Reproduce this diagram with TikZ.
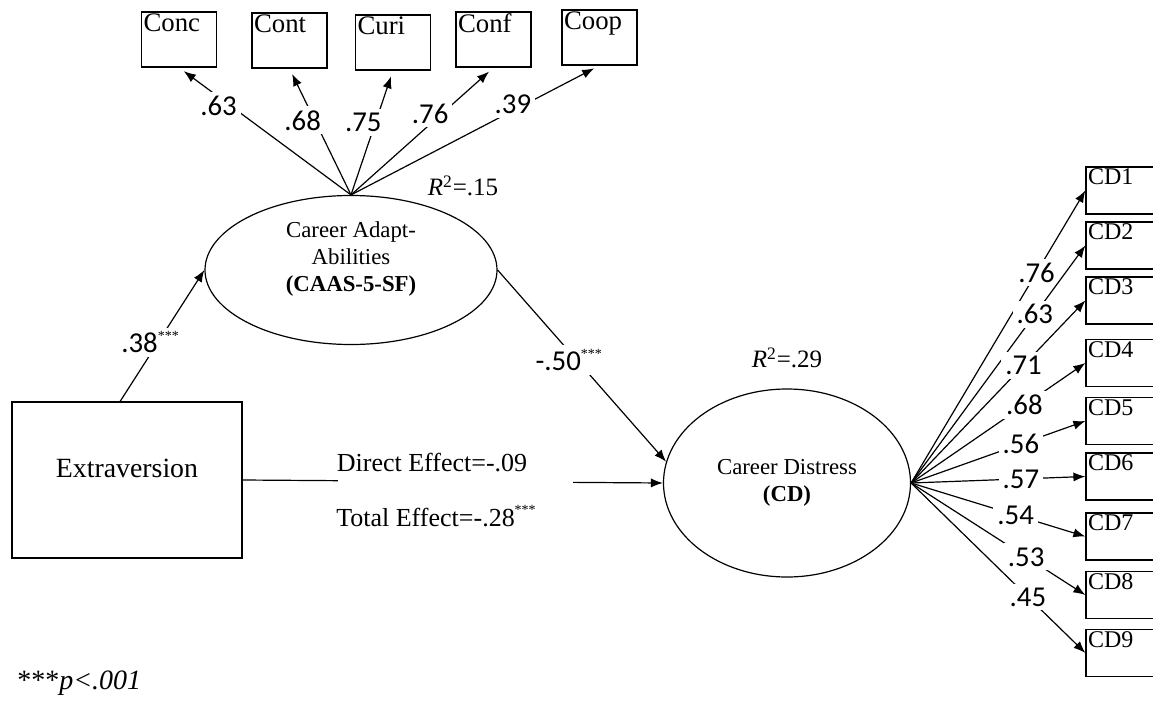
\documentclass[tikz,border=0pt]{standalone}
\usepackage{fontspec}
\setmainfont{Liberation Serif}
\newfontfamily\numfont{Carlito}
\usetikzlibrary{shapes.geometric,arrows.meta}
\newcommand{\sig}{\raisebox{6pt}{\rmfamily\fontsize{7}{7}\selectfont ***}}

\begin{document}
\begin{tikzpicture}[x=0.5pt, y=-0.5pt, line width=0.6pt,
    >={Latex[length=6pt,width=4.6pt]},
    item/.style={draw, minimum width=37.5pt, minimum height=27.5pt, inner sep=0pt},
    latent/.style={draw, ellipse, inner sep=0pt},
    coef/.style={fill=white, inner sep=2pt, font=\numfont\fontsize{14.4}{16}\selectfont},
    itemtext/.style={anchor=north west, inner sep=1pt, font=\fontsize{13.4}{15}\selectfont}]
    \useasboundingbox (0,0) rectangle (1153,702);
    \clip (0,0) rectangle (1153,702);
    % latent variables
    \node[latent, minimum width=146pt, minimum height=74.5pt,
        label={[align=center, yshift=5.5pt, font=\fontsize{11.4}{13.5}\selectfont]center:Career Adapt-\\Abilities\\\textbf{(CAAS-5-SF)}}] (adapt) at (351,270) {};
    \node[latent, minimum width=123.5pt, minimum height=94pt, align=center,
        font=\fontsize{11.4}{13.5}\selectfont] (distress) at (787,483) {Career Distress\\\textbf{(CD)}};
    % predictor
    \node[draw, minimum width=115pt, minimum height=78pt,
        label={[yshift=6pt, font=\fontsize{13.9}{16}\selectfont]center:Extraversion}] (extra) at (127,480) {};
    % R^2 values
    \node[font=\fontsize{12.5}{14}\selectfont] (rsqa) at (463,186) {\textit{R}\textsuperscript{2}=.15};
    \node[font=\fontsize{12.5}{14}\selectfont] (rsqd) at (787,358) {\textit{R}\textsuperscript{2}=.29};
    % structural paths
    \draw[->] (extra.95) -- node[coef, pos=.45, xshift=-4pt] {.38\sig} (adapt.west);
    \draw[->] (adapt.east) -- node[coef, pos=.47, xshift=-4pt] {-.50\sig} (distress.170);
    \draw[->] (extra.east) -- node[pos=.506, fill=white, minimum width=117.5pt, minimum height=4pt, inner sep=0pt] (gap) {} (distress.west);
    \node[font=\fontsize{13}{15}\selectfont] (direct) at (432,463) {Direct Effect=-.09};
    \node[font=\fontsize{13}{15}\selectfont] (total) at (436,516) {Total Effect=-.28\sig};
    % CAAS indicators
    \foreach \n/\x/\y/\w/\p in {Conc/179/39.5/.63/.70, Cont/289.5/40.5/.68/.59, Curi/393/42.5/.75/.58, Conf/493.5/39.5/.76/.64, Coop/599.5/37.5/.39/.70}{
        \node[item, label={[itemtext]north west:\n}] (\n) at (\x,\y) {};
        \draw[->, shorten >=3pt] (adapt.north) -- node[coef, pos=\p, xshift=-6pt] {\w} (\n.south);
    }
    % CD indicators
    \foreach \i/\y/\w/\p in {1/190.5/.76/.72, 2/245.5/.63/.71, 3/300.5/.71/.645, 4/363/.68/.65, 5/421/.56/.63, 6/476.5/.57/.63, 7/536.5/.54/.6, 8/595/.53/.66, 9/653/.45/.67}{
        \node[item, minimum width=45pt, minimum height=23.5pt,
            label={[itemtext, font=\fontsize{12}{13}\selectfont]north west:CD\i}] (cd\i) at (1131,\y) {};
        \draw[->] (distress.east) -- node[coef, pos=\p] {\w} (cd\i.west);
    }
    % note
    \node[anchor=west, font=\fontsize{14}{16}\selectfont] (note) at (10,683) {***\textit{p<.001}};
\end{tikzpicture}
\end{document}
